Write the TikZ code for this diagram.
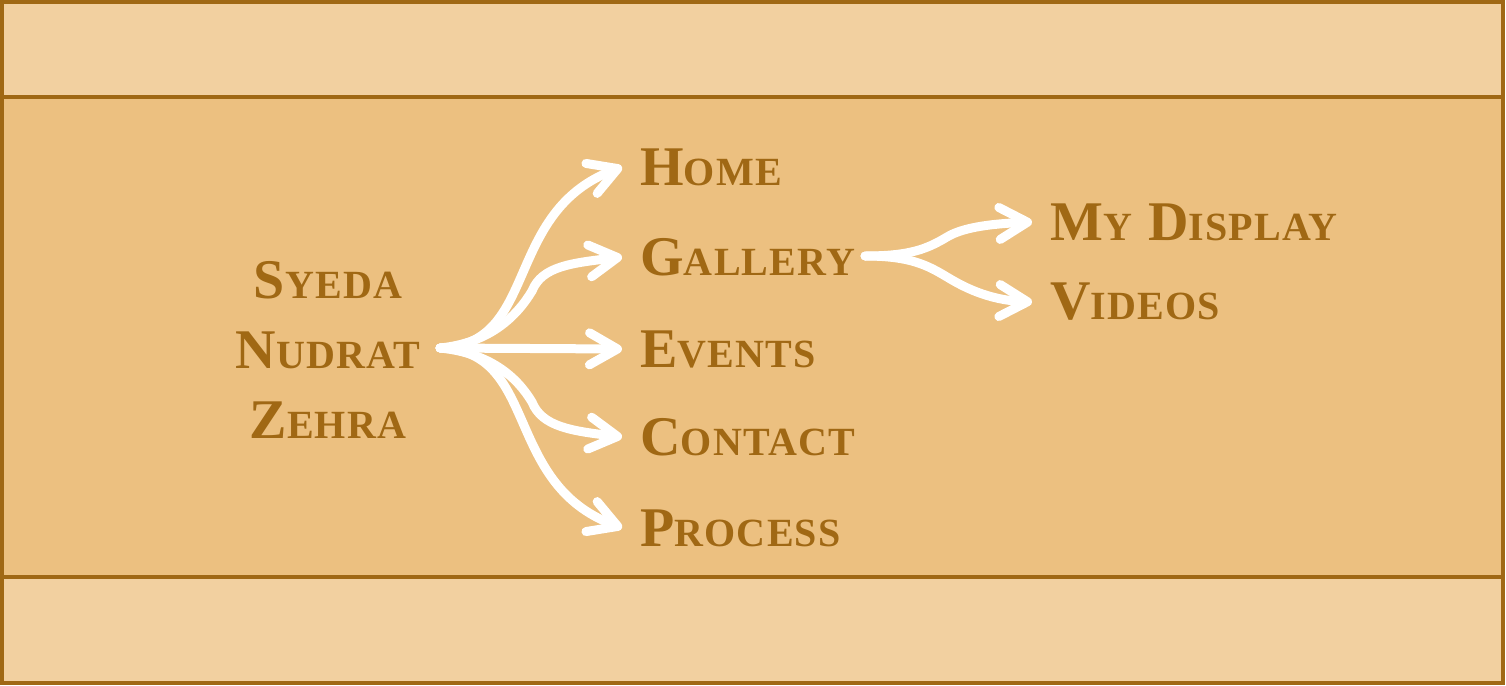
\documentclass[tikz,border=0pt]{standalone}
\usepackage{fontspec}
\setmainfont{Liberation Serif}
\usetikzlibrary{arrows.meta}

\definecolor{bandlight}{RGB}{242,208,160}
\definecolor{bandmid}{RGB}{236,192,128}
\definecolor{rim}{RGB}{160,104,20}

\newcommand{\capw}[2]{{\addfontfeature{LetterSpace=3}\fontsize{28}{35}\selectfont #1}{\addfontfeature{LetterSpace=3}\fontsize{20}{22}\selectfont #2}}

\tikzset{
  item/.style={anchor=west, inner sep=0pt, text=rim, font=\bfseries},
  flow/.style={draw=white, line width=4.5pt, line cap=round,
    -{Straight Barb[length=14pt,width=16pt,round]},
    preaction={draw=black, draw opacity=.2, transform canvas={shift={(1pt,-1.5pt)}}}},
}

\begin{document}
\begin{tikzpicture}[x=0.5pt,y=0.5pt,yscale=-1,xscale=1]
\useasboundingbox (0,0) rectangle (1506,686);

%Shape: Rectangle
\draw [draw=rim, line width=1.6pt, fill=bandlight] (2,2) rectangle (1503,97);
%Shape: Rectangle
\draw [draw=rim, line width=1.6pt, fill=bandmid] (2,97) rectangle (1503,577);
%Shape: Rectangle
\draw [draw=rim, line width=1.6pt, fill=bandlight] (2,577) rectangle (1503,683);

% Text Node
\node (name) [text=rim, align=center, inner sep=0pt, font={\bfseries\fontsize{28}{35}\selectfont}] at (328,350) {\capw{S}{YEDA}\\\capw{N}{UDRAT}\\\capw{Z}{EHRA}};
% Text Node
\node (home) [item] at (640,167) {\capw{H}{OME}};
% Text Node
\node (gallery) [item] at (640,257) {\capw{G}{ALLERY}};
% Text Node
\node (events) [item] at (640,349) {\capw{E}{VENTS}};
% Text Node
\node (contact) [item] at (640,437) {\capw{C}{ONTACT}};
% Text Node
\node (process) [item] at (640,528) {\capw{P}{ROCESS}};
% Text Node
\node (display) [item] at (1050,222) {\capw{M}{Y}\hspace{8pt}\capw{D}{ISPLAY}};
% Text Node
\node (videos) [item] at (1050,302) {\capw{V}{IDEOS}};

\coordinate (src) at (440,348);
\coordinate (gk) at (532,291);
\coordinate (ck) at (532,402);
\coordinate (src2) at (865,256);
\coordinate (mk) at (947,237);
\coordinate (vk) at (947,277);

%Curve Lines
\draw [flow] (src) .. controls +(100,-3) and +(-120,45) .. ([xshift=-9pt]home.west);
%Curve Lines
\draw [flow] (src) .. controls +(50,-5) and +(-15,25) .. (gk) .. controls +(10,-25) and +(-50,6) .. ([xshift=-9pt]gallery.west);
%Straight Lines
\draw [flow] (src) -- ([xshift=-9pt]events.west);
%Curve Lines
\draw [flow] (src) .. controls +(50,5) and +(-15,-25) .. (ck) .. controls +(10,25) and +(-50,-6) .. ([xshift=-9pt]contact.west);
%Curve Lines
\draw [flow] (src) .. controls +(100,3) and +(-120,-45) .. ([xshift=-9pt]process.west);
%Curve Lines
\draw [flow] (src2) .. controls +(45,0) and +(-20,12) .. (mk) .. controls +(15,-9) and +(-45,2) .. ([xshift=-9pt]display.west);
%Curve Lines
\draw [flow] (src2) .. controls +(45,0) and +(-20,-12) .. (vk) .. controls +(15,9) and +(-45,-2) .. ([xshift=-9pt]videos.west);

\end{tikzpicture}
\end{document}
